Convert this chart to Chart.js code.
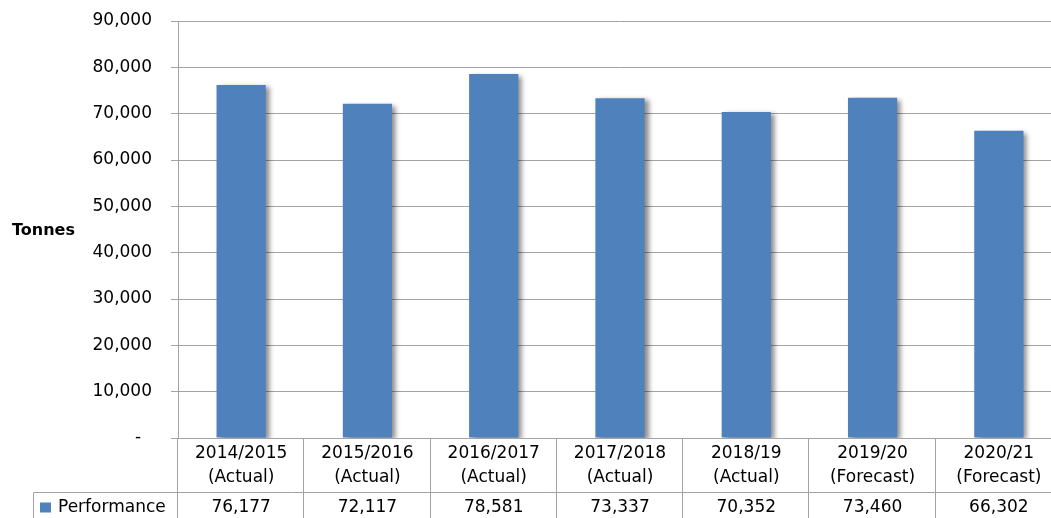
<!DOCTYPE html>
<html>
<head>
<meta charset="utf-8">
<title>Tonnes - Performance</title>
<script src="https://cdn.jsdelivr.net/npm/chart.js@4.4.1/dist/chart.umd.min.js"></script>
<style>
	html, body { margin: 0; padding: 0; background: #fff; overflow: hidden; }
	.frame { width: 1051px; height: 518px; overflow: hidden; position: relative; }
	.holder { width: 1066px; height: 518px; position: relative; }
</style>
</head>
<body>
<div class="frame">
	<div class="holder"><canvas id="tonnesChart"></canvas></div>
</div>
<script>
var years = ["2014/2015", "2015/2016", "2016/2017", "2017/2018", "2018/19", "2019/20", "2020/21"];
var periods = ["(Actual)", "(Actual)", "(Actual)", "(Actual)", "(Actual)", "(Forecast)", "(Forecast)"];
var performance = [76177, 72117, 78581, 73337, 70352, 73460, 66302];
var seriesName = "Performance";
var yTicks = [0, 10000, 20000, 30000, 40000, 50000, 60000, 70000, 80000, 90000];
var yTitle = "Tonnes";

var barBlue = "#4f81bd";
var lineGrey = "#a3a3a3";
var textFont = "17px 'DejaVu Sans', Verdana, sans-serif";

function fmt(v) {
	return v.toLocaleString("en-US");
}

Chart.defaults.font.family = "'DejaVu Sans', Verdana, sans-serif";
Chart.defaults.color = "#000";

// soft shadow on the right / bottom of the bars
var barShadow = {
	id: "barShadow",
	beforeDatasetsDraw: function(chart) {
		var ctx = chart.ctx;
		ctx.save();
		ctx.shadowColor = "rgba(0,0,0,0.45)";
		ctx.shadowBlur = 5;
		ctx.shadowOffsetX = 4;
		ctx.shadowOffsetY = 2;
	},
	afterDatasetsDraw: function(chart) {
		chart.ctx.restore();
	}
};

// y title (horizontal) + data table under the plot
var dataTable = {
	id: "dataTable",
	afterDraw: function(chart) {
		var ctx = chart.ctx;
		var area = chart.chartArea;
		var xs = chart.scales.x;
		var ys = chart.scales.y;
		var n = years.length;
		var colW = (area.right - area.left) / n;
		var y0 = Math.round(ys.getPixelForValue(0)) + 0.5;
		var rowY = y0 + 54;
		var bottom = chart.height;

		ctx.save();
		ctx.strokeStyle = lineGrey;
		ctx.lineWidth = 1;
		ctx.beginPath();
		ctx.moveTo(Math.round(area.left) - 7, y0);
		ctx.lineTo(chart.width, y0);
		ctx.moveTo(33.5, rowY);
		ctx.lineTo(chart.width, rowY);
		ctx.moveTo(33.5, rowY);
		ctx.lineTo(33.5, bottom);
		for (var i = 0; i <= n; i++) {
			var bx = Math.round(area.left + i * colW) - 0.5;
			ctx.moveTo(bx, y0);
			ctx.lineTo(bx, bottom);
		}
		ctx.stroke();

		ctx.fillStyle = "#000";
		ctx.font = textFont;
		ctx.textAlign = "center";
		ctx.textBaseline = "middle";
		for (var j = 0; j < n; j++) {
			var cx = xs.getPixelForValue(j);
			ctx.fillText(years[j], cx, y0 + 15);
			ctx.fillText(periods[j], cx, y0 + 39);
			ctx.fillText(fmt(performance[j]), cx, rowY + 15);
		}

		// legend key inside the table
		ctx.fillStyle = barBlue;
		ctx.fillRect(40, rowY + 10, 11, 10);
		ctx.fillStyle = "#000";
		ctx.textAlign = "left";
		ctx.fillText(seriesName, 58, rowY + 15);

		ctx.font = "bold 16px 'DejaVu Sans', Verdana, sans-serif";
		ctx.textAlign = "left";
		ctx.fillText(yTitle, 12, (area.top + area.bottom) / 2 + 1);
		ctx.restore();
	}
};

var ctx = document.getElementById("tonnesChart");
var tonnesChart = new Chart(ctx, {
	type: "bar",
	data: {
		labels: years.map(function(y, i) { return [y, periods[i]]; }),
		datasets: [{
			label: seriesName,
			data: performance,
			backgroundColor: barBlue,
			borderWidth: 0,
			barPercentage: 0.39,
			categoryPercentage: 1
		}]
	},
	options: {
		responsive: true,
		maintainAspectRatio: false,
		animation: false,
		layout: {
			padding: { top: 21, right: 4, bottom: 0, left: 0 }
		},
		plugins: {
			legend: { display: false },
			tooltip: { enabled: false }
		},
		scales: {
			x: {
				ticks: { display: false },
				grid: { display: false },
				border: { display: false },
				afterFit: function(s) { s.height = 80; }
			},
			y: {
				min: yTicks[0],
				max: yTicks[yTicks.length - 1],
				afterBuildTicks: function(s) {
					s.ticks = yTicks.map(function(v) { return { value: v }; });
				},
				afterFit: function(s) {
					s.width = 178;
					s.paddingTop = 0;
					s.paddingBottom = 0;
				},
				grid: { color: lineGrey, tickLength: 7, lineWidth: 1 },
				border: { color: lineGrey, width: 1 },
				ticks: {
					padding: 19,
					color: "#000",
					font: { size: 17 },
					callback: function(v) { return v === 0 ? "-  " : fmt(v); }
				}
			}
		}
	},
	plugins: [barShadow, dataTable]
});
</script>
</body>
</html>
